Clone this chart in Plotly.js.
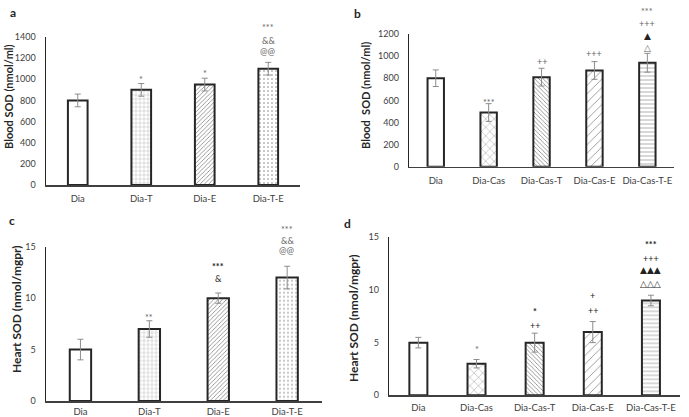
<!DOCTYPE html>
<html><head><meta charset="utf-8">
<script src="https://cdn.plot.ly/plotly-3.0.1.min.js"></script>
<style>html,body{margin:0;padding:0;background:#fff}#chart{width:689px;height:417px}</style>
</head><body><div id="chart"></div>
<script>
// ---------------- DATA ----------------
const catsA = ['Dia', 'Dia-T', 'Dia-E', 'Dia-T-E'];
const bloodSodA = [800, 900, 950, 1100];
const bloodSodAErr = [60, 60, 60, 60];
const sigA = [[], ['*'], ['*'], ['@@', '&&', '***']];           // bottom -> top

const catsB = ['Dia', 'Dia-Cas', 'Dia-Cas-T', 'Dia-Cas-E', 'Dia-Cas-T-E'];
const bloodSodB = [800, 490, 810, 870, 940];
const bloodSodBErr = [75, 80, 80, 80, 85];
const sigB = [[], ['***'], ['++'], ['+++'], ['△', '▲', '+++', '***']];

const catsC = ['Dia', 'Dia-T', 'Dia-E', 'Dia-T-E'];
const heartSodC = [5, 7, 10, 12];
const heartSodCErr = [1, 0.8, 0.5, 1.1];
const sigC = [[], ['**'], ['&', '***'], ['@@', '&&', '***']];

const catsD = ['Dia', 'Dia-Cas', 'Dia-Cas-T', 'Dia-Cas-E', 'Dia-Cas-T-E'];
const heartSodD = [5, 3, 5, 6, 9];
const heartSodDErr = [0.5, 0.4, 0.9, 1, 0.5];
const sigD = [[], ['*'], ['++', '*'], ['++', '+'], ['△△△', '▲▲▲', '+++', '***']];

// ---------------- LAYOUT / STYLE ----------------
const W = 689, H = 417;
const FONT = 'Lato, "Open Sans", "DejaVu Sans", sans-serif';
// plot-area pixel boxes: left, right, bottom(baseline), top
const BOX = {
  a: {x0: 46, x1: 300, y0: 185, y1: 37},
  b: {x0: 409.3, x1: 673.8, y0: 166.7, y1: 34},
  c: {x0: 46, x1: 321.6, y0: 401, y1: 246.7},
  d: {x0: 389.3, x1: 680, y0: 395.3, y1: 237.3}
};
const XSTAND = {a: 4, b: 4, c: 1, d: 3};
// label offsets (px above error-bar top, glyph centre), bottom -> top
const OFF = {
  a: [[], [7], [7.6], [11, 22.7, 37.7]],
  b: [[], [4.3], [7.7], [8.3], [6, 18.7, 30, 44.4]],
  c: [[], [6], [15, 29.4], [16, 26, 39.3]],
  d: [[], [12.6], [8.4, 24.4], [11.7, 26.4], [12.6, 26, 37.6, 53.3]]
};
const DARK = {c: [2], d: [2, 3, 4]};
const patA = {shape: ['', '+', '/', '.'], size: [4, 4, 3, 4], solidity: [0.2, 0.12, 0.25, 0.12]};
const patB = {shape: ['', 'x', '\\', '/', '-'], size: [4, 6, 3, 6, 4], solidity: [0.2, 0.12, 0.25, 0.12, 0.15]};

const panels = [
  {key: 'a', ax: '', cats: catsA, vals: bloodSodA, errs: bloodSodAErr, sig: sigA, pat: patA, dtick: 200, top: 1400,
   title: 'Blood SOD (nmol/ml)', tx: 8, ty: 97, tsize: 11, lx: 13, ly: 12},
  {key: 'b', ax: '2', cats: catsB, vals: bloodSodB, errs: bloodSodBErr, sig: sigB, pat: patB, dtick: 200, top: 1200,
   title: 'Blood  SOD (nmol/ml)', tx: 365, ty: 96, tsize: 11, lx: 357, ly: 13},
  {key: 'c', ax: '3', cats: catsC, vals: heartSodC, errs: heartSodCErr, sig: sigC, pat: patA, dtick: 5, top: 15,
   title: 'Heart SOD (nmol/mgpr)', tx: 16, ty: 309, tsize: 12, lx: 12, ly: 220},
  {key: 'd', ax: '4', cats: catsD, vals: heartSodD, errs: heartSodDErr, sig: sigD, pat: patB, dtick: 5, top: 15,
   title: 'Heart SOD (nmol/mgpr)', tx: 353, ty: 318, tsize: 12, lx: 347, ly: 223}
];

const data = [];
const layout = {
  width: W, height: H, margin: {l: 0, r: 0, t: 0, b: 0},
  paper_bgcolor: '#fff', plot_bgcolor: 'rgba(0,0,0,0)',
  showlegend: false, font: {family: FONT, color: '#404040'},
  annotations: []
};

panels.forEach(p => {
  const b = BOX[p.key];
  const xa = 'xaxis' + p.ax, ya = 'yaxis' + p.ax;
  const xr = 'x' + p.ax, yr = 'y' + p.ax;
  data.push({
    type: 'bar', x: p.cats, y: p.vals, xaxis: xr, yaxis: yr, width: 0.31,
    marker: {
      color: '#ffffff',
      line: {color: '#262626', width: 2},
      pattern: {shape: p.pat.shape, size: p.pat.size, solidity: p.pat.solidity, fgcolor: '#7a7a7a', fillmode: 'replace'}
    },
    error_y: {type: 'data', array: p.errs, visible: true, color: '#8c8c8c', thickness: 1, width: 3},
    hoverinfo: 'skip'
  });
  layout[xa] = {
    domain: [b.x0 / W, b.x1 / W], anchor: yr, range: [-0.5, p.cats.length - 0.5],
    showline: true, linecolor: '#404040', linewidth: 1.5, showgrid: false, zeroline: false,
    ticks: '', ticklabelstandoff: XSTAND[p.key], tickfont: {family: FONT, size: 9.5, color: '#404040'}, fixedrange: true
  };
  layout[ya] = {
    domain: [1 - b.y0 / H, 1 - b.y1 / H], anchor: xr, range: [0, p.top], dtick: p.dtick, tick0: 0,
    showline: true, linecolor: '#262626', linewidth: 1.5, showgrid: false, zeroline: false,
    ticks: '', ticklabelstandoff: 7, tickfont: {family: FONT, size: 9, color: '#404040'}, fixedrange: true
  };
  // significance labels
  p.sig.forEach((lines, i) => {
    lines.forEach((txt, k) => {
      const isAst = txt.indexOf('*') >= 0;
      const isTri = txt.indexOf('▲') >= 0;
      const dark = (DARK[p.key] || []).indexOf(i) >= 0 || isTri;
      const shift = OFF[p.key][i][k] - (isAst ? 3 : 0.5);
      layout.annotations.push({
        xref: xr, yref: yr, x: p.cats[i], y: p.vals[i] + p.errs[i], yanchor: 'middle',
        yshift: shift, showarrow: false,
        text: dark && (isAst || isTri) ? '<b>' + txt + '</b>' : txt,
        font: {family: FONT, size: 9, color: dark ? '#222222' : '#666666'}
      });
    });
  });
  // y-axis title
  layout.annotations.push({
    xref: 'paper', yref: 'paper', x: p.tx / W, y: 1 - p.ty / H, xanchor: 'center', yanchor: 'middle',
    textangle: -90, showarrow: false, text: '<b>' + p.title + '</b>',
    font: {family: FONT, size: p.tsize, color: '#262626'}
  });
  // panel letter
  layout.annotations.push({
    xref: 'paper', yref: 'paper', x: p.lx / W, y: 1 - p.ly / H, xanchor: 'center', yanchor: 'middle',
    showarrow: false, text: '<b>' + p.key + '</b>', font: {family: FONT, size: 12, color: '#262626'}
  });
});

Plotly.newPlot('chart', data, layout, {staticPlot: true, displayModeBar: false});
</script></body></html>
